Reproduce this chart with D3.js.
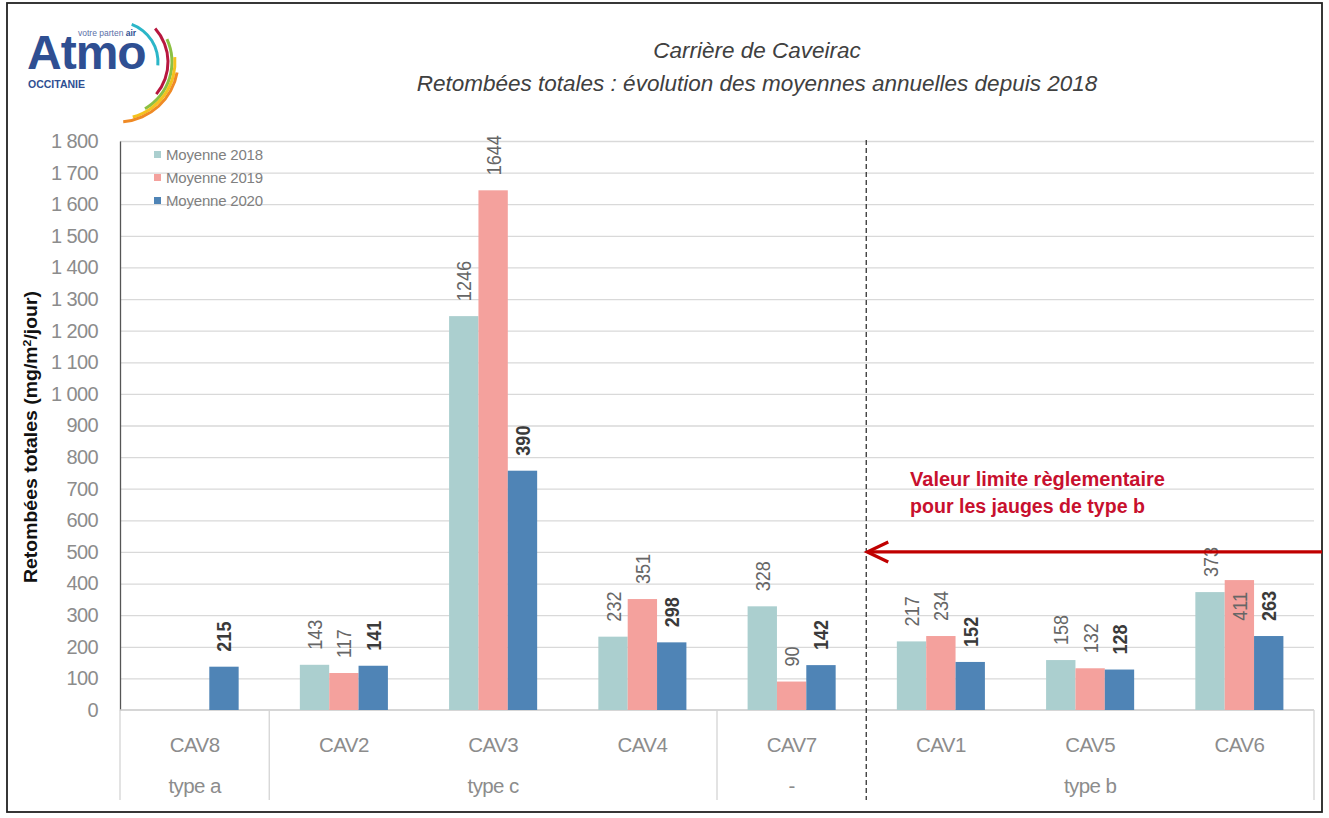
<!DOCTYPE html>
<html>
<head>
<meta charset="utf-8">
<script src="https://cdn.jsdelivr.net/npm/d3@7"></script>
<style>
  body { margin: 0; background: #fff; }
  svg { display: block; }
  .narrow { font-family: "Liberation Sans Narrow", "Arial Narrow", "Liberation Sans", Arial, sans-serif; }
  .sans { font-family: "Liberation Sans", Arial, sans-serif; }
</style>
</head>
<body>
<svg id="chart" width="1329" height="818"></svg>
<script>
// ---- data ----
const categories = ["CAV8", "CAV2", "CAV3", "CAV4", "CAV7", "CAV1", "CAV5", "CAV6"];
const groupLabels = ["type a", "type c", "-", "type b"];
const groupSizes = [1, 3, 1, 3];
const seriesNames = ["Moyenne 2018", "Moyenne 2019", "Moyenne 2020"];
const values2018 = [null, 143, 1246, 232, 328, 217, 158, 373];
const values2019 = [null, 117, 1644, 351, 90, 234, 132, 411];
// 2020 bars as drawn in the source (their printed labels differ for some stations)
const values2020 = [137, 140, 757, 214, 142, 152, 128, 234];
const labels2020 = [215, 141, 390, 298, 142, 152, 128, 263];
const yTicks = [0, 100, 200, 300, 400, 500, 600, 700, 800, 900, 1000,
                1100, 1200, 1300, 1400, 1500, 1600, 1700, 1800];
const limitValue = 500;

const colors = ["#abcfcf", "#f4a19d", "#4f84b6"];

const svg = d3.select("#chart");
const plotLeft = 120, plotRight = 1314, plotTop = 141, plotBottom = 710;

// outer frame
svg.append("rect")
   .attr("x", 7).attr("y", 3)
   .attr("width", 1315).attr("height", 809)
   .attr("fill", "none")
   .attr("stroke", "#222")
   .attr("stroke-width", 1.8);

// logo
let logo = svg.append("g");
const arcs = [
  {r: 40, a0: 20, a1: 95, c: "#2bb6c8"},
  {r: 50, a0: 48, a1: 130, c: "#b8173f"},
  {r: 54, a0: 65, a1: 150, c: "#8cc043"},
  {r: 57, a0: 85, a1: 165, c: "#f4c21e"},
  {r: 60, a0: 100, a1: 175, c: "#ef8a25"}
];
const arcGen = d3.arc();
logo.selectAll("path.logo-arc")
    .data(arcs)
    .join("path")
    .attr("class", "logo-arc")
    .attr("transform", "translate(118,62)")
    .attr("fill", d => d.c)
    .attr("d", d => arcGen({
      innerRadius: d.r - 1.5, outerRadius: d.r + 1.5,
      startAngle: d.a0 * Math.PI / 180, endAngle: d.a1 * Math.PI / 180
    }));
logo.append("text")
    .attr("x", 27).attr("y", 69)
    .attr("class", "sans")
    .attr("font-size", 48).attr("font-weight", "bold")
    .attr("fill", "#2f4f92")
    .attr("letter-spacing", -1)
    .text("Atmo");
logo.append("text")
    .attr("x", 78).attr("y", 36)
    .attr("class", "sans")
    .attr("font-size", 8.5)
    .attr("fill", "#5a6fa8")
    .html('votre parten <tspan font-weight="bold" fill="#2f4f92">air</tspan>');
logo.append("text")
    .attr("x", 28).attr("y", 88)
    .attr("class", "sans")
    .attr("font-size", 10.5).attr("font-weight", "bold")
    .attr("fill", "#2f4f92")
    .text("OCCITANIE");

// titles
svg.append("text")
   .attr("x", 757).attr("y", 58)
   .attr("text-anchor", "middle")
   .attr("class", "sans")
   .attr("font-size", 22.5).attr("font-style", "italic")
   .attr("fill", "#404040")
   .text("Carrière de Caveirac");
svg.append("text")
   .attr("x", 757).attr("y", 91)
   .attr("text-anchor", "middle")
   .attr("class", "sans")
   .attr("font-size", 22.5).attr("font-style", "italic")
   .attr("fill", "#404040")
   .text("Retombées totales : évolution des moyennes annuelles depuis 2018");

// scales
const x0 = d3.scaleBand()
             .domain(categories)
             .range([plotLeft, plotRight])
             .paddingInner(0.41)
             .paddingOuter(0.205);
const x1 = d3.scaleBand()
             .domain(seriesNames)
             .range([0, x0.bandwidth()]);
const y = d3.scaleLinear()
            .domain([0, 1800])
            .range([plotBottom, plotTop]);

const fmt = d3.formatLocale({decimal: ",", thousands: " ", grouping: [3], currency: ["", ""]})
              .format(",d");

// grid
const yGrid = d3.axisLeft(y)
                .tickValues(yTicks.slice(1))
                .tickSize(-(plotRight - plotLeft))
                .tickFormat("");
svg.append("g")
   .attr("transform", `translate(${plotLeft},0)`)
   .call(yGrid)
   .call(g => g.select(".domain").remove())
   .call(g => g.selectAll("line").attr("stroke", "#d9d9d9").attr("stroke-width", 1.3));

// y axis
const yAxis = d3.axisLeft(y).tickValues(yTicks).tickSize(0).tickPadding(22).tickFormat(fmt);
svg.append("g")
   .attr("transform", `translate(${plotLeft},0)`)
   .call(yAxis)
   .call(g => g.select(".domain").attr("stroke", "#555").attr("stroke-width", 1.3))
   .call(g => g.selectAll("text")
               .attr("class", "narrow")
               .attr("font-size", 20)
               .attr("letter-spacing", -0.6)
               .attr("fill", "#8c8c8c"));

svg.append("text")
   .attr("transform", "translate(37,437) rotate(-90)")
   .attr("text-anchor", "middle")
   .attr("class", "sans")
   .attr("font-size", 17.5).attr("font-weight", "bold")
   .attr("fill", "#111")
   .attr("textLength", 292)
   .attr("lengthAdjust", "spacingAndGlyphs")
   .html('Retombées totales (mg/m<tspan dy="-6" font-size="11">2</tspan><tspan dy="6">/jour)</tspan>');

// category axis
svg.append("line")
   .attr("x1", plotLeft).attr("x2", plotRight)
   .attr("y1", plotBottom).attr("y2", plotBottom)
   .attr("stroke", "#c8c8c8").attr("stroke-width", 1.3);

svg.append("g")
   .selectAll("text")
   .data(categories)
   .join("text")
   .attr("class", "narrow")
   .attr("x", d => x0(d) + x0.bandwidth() / 2)
   .attr("y", 752)
   .attr("text-anchor", "middle")
   .attr("font-size", 20.5)
   .attr("letter-spacing", -0.6)
   .attr("fill", "#8c8c8c")
   .text(d => d);

let groupStart = 0;
const step = x0.step();
const groupEdges = [plotLeft];
groupLabels.forEach((label, i) => {
  const gx0 = plotLeft + groupStart * step;
  const gx1 = plotLeft + (groupStart + groupSizes[i]) * step;
  groupEdges.push(gx1);
  svg.append("text")
     .attr("class", "narrow")
     .attr("x", (gx0 + gx1) / 2)
     .attr("y", 793)
     .attr("text-anchor", "middle")
     .attr("font-size", 20.5)
     .attr("letter-spacing", -0.6)
     .attr("fill", "#8c8c8c")
     .text(label);
  groupStart += groupSizes[i];
});
// separators (the one before type b is the dashed line)
svg.selectAll("line.sep")
   .data(groupEdges.filter((d, i) => i !== 3))
   .join("line")
   .attr("class", "sep")
   .attr("x1", d => d).attr("x2", d => d)
   .attr("y1", plotBottom).attr("y2", 800)
   .attr("stroke", "#d4d4d4").attr("stroke-width", 1.3);

// bars
const series = [values2018, values2019, values2020];
const barData = [];
series.forEach((vals, s) => {
  vals.forEach((v, i) => {
    if (v == null) return;
    barData.push({cat: categories[i], name: seriesNames[s], s: s, value: v,
                  label: s === 2 ? labels2020[i] : v});
  });
});

svg.append("g")
   .selectAll("rect")
   .data(barData)
   .join("rect")
   .attr("x", d => x0(d.cat) + x1(d.name))
   .attr("y", d => y(d.value))
   .attr("width", x1.bandwidth())
   .attr("height", d => y(0) - y(d.value))
   .attr("fill", d => colors[d.s]);

// data labels, rotated (condensed a little to mimic the narrow face)
const insideLabel = d => d.cat === "CAV6" && d.s === 1;
svg.append("g")
   .selectAll("text")
   .data(barData)
   .join("text")
   .attr("class", "narrow")
   .attr("transform", d => {
     const cx = x0(d.cat) + x1(d.name) + x1.bandwidth() / 2 + 7.5;
     const cy = insideLabel(d) ? y(d.value) + 12 : y(d.value) - 15;
     return `translate(${cx},${cy}) rotate(-90) scale(0.86,1)`;
   })
   .attr("text-anchor", d => insideLabel(d) ? "end" : "start")
   .attr("font-size", 21)
   .attr("font-weight", d => d.s === 2 ? "bold" : "normal")
   .attr("fill", d => d.s === 2 ? "#3a3a3a" : "#666")
   .text(d => d.label);

// legend
const legend = svg.append("g").attr("transform", "translate(154,151)");
seriesNames.forEach((name, i) => {
  legend.append("rect")
        .attr("x", 0).attr("y", i * 23)
        .attr("width", 7).attr("height", 7)
        .attr("fill", colors[i]);
  legend.append("text")
        .attr("class", "narrow")
        .attr("x", 12).attr("y", i * 23 + 8.5)
        .attr("font-size", 15)
        .attr("letter-spacing", -0.2)
        .attr("fill", "#808080")
        .text(name);
});

// dashed separator between non-b and type b gauges
svg.append("line")
   .attr("x1", groupEdges[3]).attr("x2", groupEdges[3])
   .attr("y1", 140).attr("y2", 800)
   .attr("stroke", "#333")
   .attr("stroke-width", 1.3)
   .attr("stroke-dasharray", "5,3");

// limit arrow for type b
const ly = y(limitValue);
const tipX = groupEdges[3] + 1;
svg.append("line")
   .attr("x1", 1322).attr("x2", tipX + 2)
   .attr("y1", ly).attr("y2", ly)
   .attr("stroke", "#c00000").attr("stroke-width", 3.2);
svg.append("path")
   .attr("d", `M${tipX + 21},${ly - 10} L${tipX},${ly} L${tipX + 21},${ly + 10}`)
   .attr("fill", "none")
   .attr("stroke", "#c00000").attr("stroke-width", 3.2)
   .attr("stroke-linejoin", "miter");

svg.append("text")
   .attr("x", 910).attr("y", 486)
   .attr("class", "sans")
   .attr("font-size", 19.5).attr("font-weight", "bold")
   .attr("textLength", 255)
   .attr("lengthAdjust", "spacingAndGlyphs")
   .attr("fill", "#c8102e")
   .text("Valeur limite règlementaire");
svg.append("text")
   .attr("x", 910).attr("y", 513)
   .attr("class", "sans")
   .attr("font-size", 19.5).attr("font-weight", "bold")
   .attr("textLength", 235)
   .attr("lengthAdjust", "spacingAndGlyphs")
   .attr("fill", "#c8102e")
   .text("pour les jauges de type b");
</script>
</body>
</html>
